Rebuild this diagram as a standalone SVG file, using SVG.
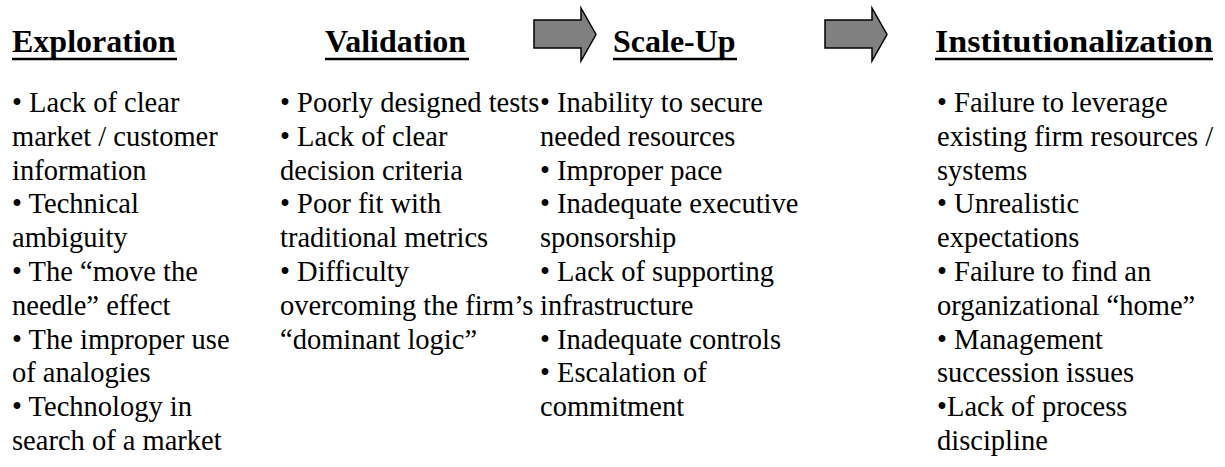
<svg xmlns="http://www.w3.org/2000/svg" width="1225" height="467" viewBox="0 0 1225 467">
<style>
.h{font-weight:bold;font-size:32px;fill:#000}
.b{font-size:28.5px;fill:#000}
.u{stroke:#000;stroke-width:2.5}
.ar{fill:#808080;stroke:#000;stroke-width:1.5;stroke-linejoin:miter}
</style>
<rect width="1225" height="467" fill="#fff"/>
<g id="connectors">
<polygon class="ar" points="534,20 581,20 581,8 596,34.5 581,61 581,48 534,48"/>
<polygon class="ar" points="825,20 872,20 872,8 887,34.5 872,61 872,48 825,48"/>
</g>
<g font-family="'Liberation Serif', 'Times New Roman', Times, serif">
<g id="exploration">
<text class="h" x="12" y="52">Exploration</text>
<line class="u" x1="12" y1="59" x2="177" y2="59"/>
<text class="b"><tspan x="12" y="112">• Lack of clear</tspan><tspan x="12" dy="33.8">market / customer</tspan><tspan x="12" dy="33.8">information</tspan><tspan x="12" dy="33.8">• Technical</tspan><tspan x="12" dy="33.8">ambiguity</tspan><tspan x="12" dy="33.8">• The “move the</tspan><tspan x="12" dy="33.8">needle” effect</tspan><tspan x="12" dy="33.8">• The improper use</tspan><tspan x="12" dy="33.8">of analogies</tspan><tspan x="12" dy="33.8">• Technology in</tspan><tspan x="12" dy="33.8">search of a market</tspan></text>
</g>
<g id="validation">
<text class="h" x="325" y="52">Validation</text>
<line class="u" x1="325" y1="59" x2="469" y2="59"/>
<text class="b"><tspan x="280" y="112">• Poorly designed tests</tspan><tspan x="280" dy="33.8">• Lack of clear</tspan><tspan x="280" dy="33.8">decision criteria</tspan><tspan x="280" dy="33.8">• Poor fit with</tspan><tspan x="280" dy="33.8">traditional metrics</tspan><tspan x="280" dy="33.8">• Difficulty</tspan><tspan x="280" dy="33.8">overcoming the firm’s</tspan><tspan x="280" dy="33.8">“dominant logic”</tspan></text>
</g>
<g id="scale-up">
<text class="h" x="613" y="52">Scale-Up</text>
<line class="u" x1="613" y1="59" x2="737" y2="59"/>
<text class="b"><tspan x="540" y="112">• Inability to secure</tspan><tspan x="540" dy="33.8">needed resources</tspan><tspan x="540" dy="33.8">• Improper pace</tspan><tspan x="540" dy="33.8">• Inadequate executive</tspan><tspan x="540" dy="33.8">sponsorship</tspan><tspan x="540" dy="33.8">• Lack of supporting</tspan><tspan x="540" dy="33.8">infrastructure</tspan><tspan x="540" dy="33.8">• Inadequate controls</tspan><tspan x="540" dy="33.8">• Escalation of</tspan><tspan x="540" dy="33.8">commitment</tspan></text>
</g>
<g id="institutionalization">
<text class="h" x="935" y="52" textLength="278" lengthAdjust="spacingAndGlyphs">Institutionalization</text>
<line class="u" x1="935" y1="59" x2="1213" y2="59"/>
<text class="b"><tspan x="937" y="112">• Failure to leverage</tspan><tspan x="937" dy="33.8">existing firm resources /</tspan><tspan x="937" dy="33.8">systems</tspan><tspan x="937" dy="33.8">• Unrealistic</tspan><tspan x="937" dy="33.8">expectations</tspan><tspan x="937" dy="33.8">• Failure to find an</tspan><tspan x="937" dy="33.8">organizational “home”</tspan><tspan x="937" dy="33.8">• Management</tspan><tspan x="937" dy="33.8">succession issues</tspan><tspan x="937" dy="33.8">•Lack of process</tspan><tspan x="937" dy="33.8">discipline</tspan></text>
</g>
</g>
</svg>
